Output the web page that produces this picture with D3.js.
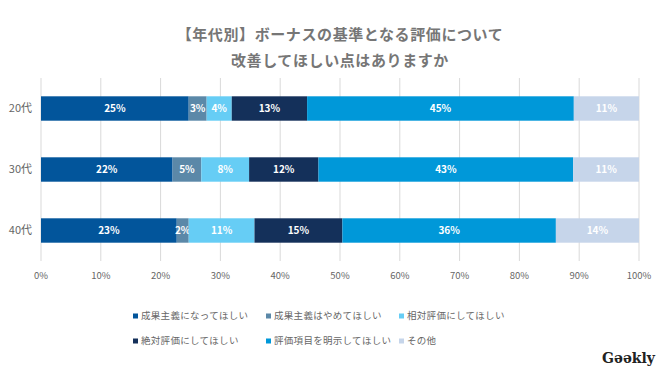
<!DOCTYPE html>
<html>
<head>
<meta charset="utf-8">
<script src="https://cdn.jsdelivr.net/npm/d3@7"></script>
<style>
  body { margin: 0; background: #fff; }
  text { font-family: "Noto Sans CJK JP", "Noto Sans", sans-serif; }
</style>
</head>
<body>
<div id="chart"></div>
<script>
// data
var ages = ["20代", "30代", "40代"];
var series = ["成果主義になってほしい", "成果主義はやめてほしい", "相対評価にしてほしい",
              "絶対評価にしてほしい", "評価項目を明示してほしい", "その他"];
var colors = ["#02559b", "#5b88a8", "#66cdf5", "#14305a", "#0098d9", "#c6d5ea"];
var v20 = [24.7, 3.0, 4.2, 12.6, 44.6, 10.9];
var v30 = [22.0, 4.8, 8.0, 11.6, 42.6, 11.0];
var v40 = [22.7, 2.0, 11.0, 14.7, 35.7, 13.9];
var ticks = [0, 10, 20, 30, 40, 50, 60, 70, 80, 90, 100];

var values = [v20, v30, v40];

var W = 660, H = 371;
var svg = d3.select("#chart").append("svg")
    .attr("width", W)
    .attr("height", H);

var x = d3.scaleLinear().domain([0, 100]).range([41, 639]);
var y = d3.scaleBand().domain(ages).range([78, 261]).paddingInner(0.6).paddingOuter(0.3);

// title
svg.append("g").selectAll("text")
  .data(["【年代別】ボーナスの基準となる評価について", "改善してほしい点はありますか"])
  .enter().append("text")
    .attr("x", 340)
    .attr("y", function(d, i) { return 35 + i * 25.5; })
    .attr("dy", "0.35em")
    .attr("text-anchor", "middle")
    .style("font-size", "15px")
    .style("font-weight", "bold")
    .style("letter-spacing", "0.6px")
    .style("fill", "#767676")
    .text(function(d) { return d; });

// gridlines
svg.append("g").selectAll("line")
  .data(ticks)
  .enter().append("line")
    .attr("x1", function(d) { return x(d); })
    .attr("x2", function(d) { return x(d); })
    .attr("y1", 78)
    .attr("y2", 261)
    .style("stroke", "#d9d9d9")
    .style("stroke-width", 1);

// tick labels
svg.append("g").selectAll("text")
  .data(ticks)
  .enter().append("text")
    .attr("x", function(d) { return x(d); })
    .attr("y", 276)
    .attr("dy", "0.35em")
    .attr("text-anchor", "middle")
    .style("font-size", "9.5px")
    .style("fill", "#666")
    .text(function(d) { return d + "%"; });

// category labels
svg.append("g").selectAll("text")
  .data(ages)
  .enter().append("text")
    .attr("x", 32)
    .attr("y", function(d) { return y(d) + y.bandwidth() / 2; })
    .attr("dy", "0.35em")
    .attr("text-anchor", "end")
    .style("font-size", "11px")
    .style("fill", "#666")
    .text(function(d) { return d; });

// stacked segments
var segs = [];
values.forEach(function(row, r) {
  var acc = 0;
  row.forEach(function(v, i) {
    segs.push({age: ages[r], i: i, x0: acc, x1: acc + v, v: v});
    acc += v;
  });
});

var bars = svg.append("g").selectAll("g")
  .data(segs)
  .enter().append("g");

bars.append("rect")
    .attr("x", function(d) { return x(d.x0); })
    .attr("y", function(d) { return y(d.age); })
    .attr("width", function(d) { return x(d.x1) - x(d.x0); })
    .attr("height", y.bandwidth())
    .style("fill", function(d) { return colors[d.i]; });

bars.append("text")
    .attr("x", function(d) { return (x(d.x0) + x(d.x1)) / 2; })
    .attr("y", function(d) { return y(d.age) + y.bandwidth() / 2; })
    .attr("dy", "0.35em")
    .attr("text-anchor", "middle")
    .style("font-size", "10px")
    .style("font-weight", "bold")
    .style("fill", "#fff")
    .text(function(d) { return Math.round(d.v) + "%"; });

// legend
var legend = svg.append("g").selectAll("g")
  .data(series)
  .enter().append("g")
    .attr("transform", function(d, i) {
      return "translate(" + (133 + (i % 3) * 133) + "," + (316 + Math.floor(i / 3) * 25) + ")";
    });

legend.append("rect")
    .attr("x", 0)
    .attr("y", -2.5)
    .attr("width", 5)
    .attr("height", 5)
    .style("fill", function(d, i) { return colors[i]; });

legend.append("text")
    .attr("x", 8)
    .attr("y", 0)
    .attr("dy", "0.35em")
    .style("font-size", "9.5px")
    .style("letter-spacing", "0.3px")
    .style("fill", "#666")
    .text(function(d) { return d; });

// logo
svg.append("text")
    .attr("x", 655)
    .attr("y", 363)
    .attr("text-anchor", "end")
    .style("font-family", "'DejaVu Serif', serif")
    .style("font-size", "14px")
    .style("font-weight", "bold")
    .style("fill", "#222")
    .text("Gəəkly");
</script>
</body>
</html>
